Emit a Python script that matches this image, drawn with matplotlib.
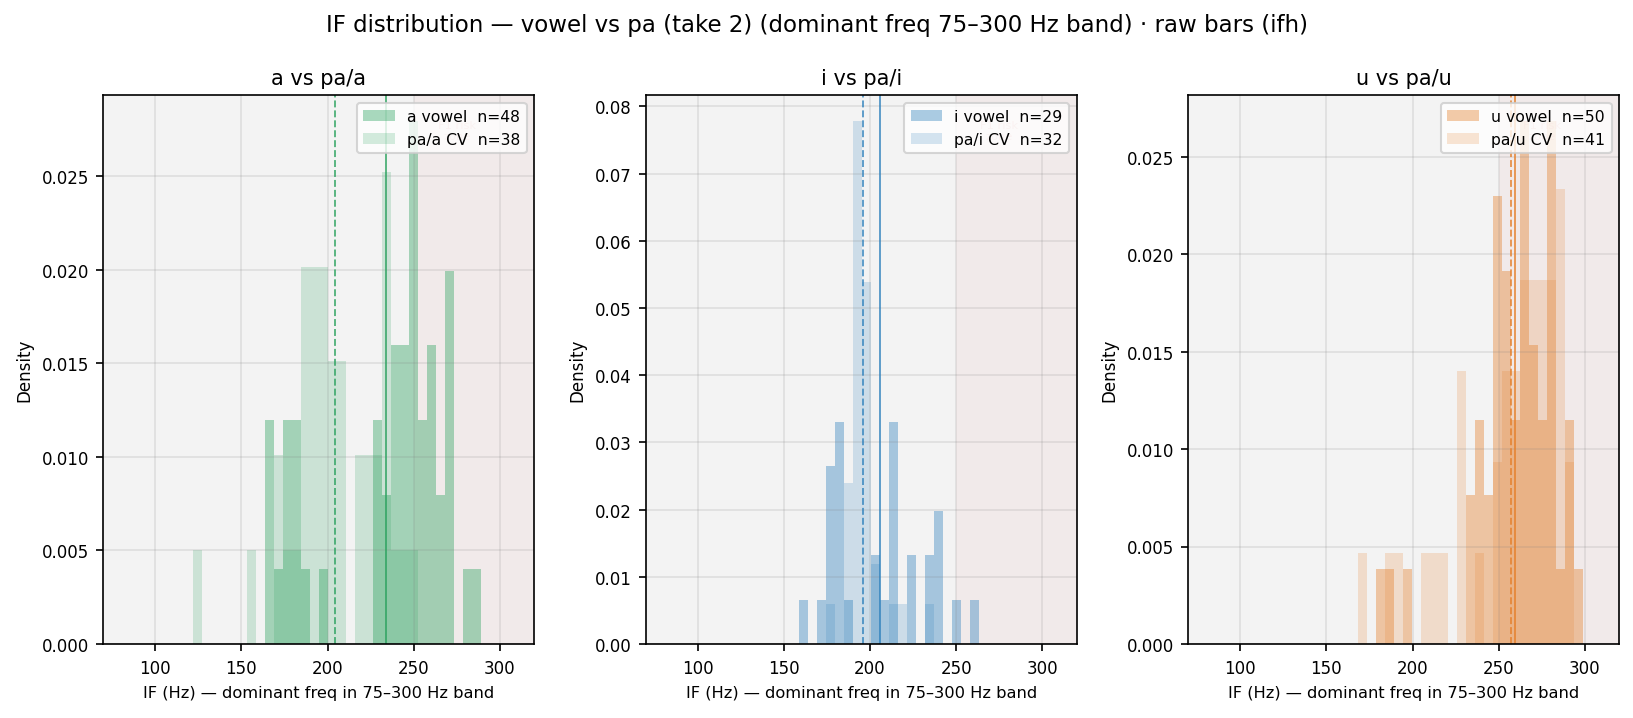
import numpy as np
import matplotlib.pyplot as plt

# histogram counts (shared bin width, per-panel start)
bin_width = 5.22
vowels = ['a', 'i', 'u']
bin_start = [122.1, 158.9, 168.6]

vowel_counts = [
    [0, 0, 0, 0, 0, 0, 0, 0, 3, 1, 3, 3, 1, 0, 1, 0, 0, 0, 0, 0, 3, 2, 4, 4, 7, 3, 4, 2, 5, 0, 1, 1],
    [1, 0, 1, 4, 5, 1, 0, 0, 2, 1, 5, 0, 2, 0, 2, 3, 0, 1, 0, 1],
    [0, 0, 1, 1, 0, 1, 0, 0, 0, 0, 0, 0, 2, 3, 2, 6, 5, 3, 7, 4, 3, 7, 1, 3, 1],
]
cv_counts = [
    [1, 0, 0, 0, 0, 0, 1, 0, 0, 2, 1, 1, 4, 4, 4, 3, 3, 0, 2, 2, 2, 5, 1, 1, 1, 0, 0, 0, 0, 0, 0, 0],
    [0, 0, 0, 1, 0, 4, 13, 9, 2, 0, 1, 1, 0, 0, 1, 0, 0, 0, 0, 0],
    [1, 0, 0, 1, 1, 0, 0, 1, 1, 1, 0, 3, 0, 1, 0, 2, 3, 3, 4, 4, 4, 4, 5, 2, 0],
]
# mean IF of each group (vertical lines)
vowel_mean = [233.7, 205.8, 259.3]
cv_mean = [204.6, 195.9, 257.0]

colors = ['#2ca25f', '#3182bd', '#e47f2a']
f1_risk = (250, 320)
xlim = (70, 320)

fig, axes = plt.subplots(1, 3, figsize=(10.893, 4.793), dpi=150)
fig.subplots_adjust(left=0.0633, right=0.9911, bottom=0.1029, top=0.8666, wspace=0.2587)

for k, ax in enumerate(axes):
    v = vowels[k]
    c = colors[k]
    vc = np.array(vowel_counts[k])
    pc = np.array(cv_counts[k])
    edges = bin_start[k] + bin_width * np.arange(len(vc) + 1)
    centers = 0.5 * (edges[:-1] + edges[1:])

    ax.set_facecolor('#f3f3f3')
    ax.grid(True, color='gray', alpha=0.18, lw=0.8)
    ax.axvspan(f1_risk[0], f1_risk[1], color='#d9534f', alpha=0.05, lw=0, zorder=0)

    ax.hist(centers, bins=edges, weights=vc, density=True, color=c, alpha=0.4,
            label=f'{v} vowel  n={vc.sum()}')
    ax.hist(centers, bins=edges, weights=pc, density=True, color=c, alpha=0.2,
            label=f'pa/{v} CV  n={pc.sum()}')
    ax.axvline(vowel_mean[k], color=c, lw=0.9, alpha=0.8)
    ax.axvline(cv_mean[k], color=c, lw=0.9, alpha=0.8, ls='--')

    ax.text(275, 0.935, 'F1 risk\nzone', transform=ax.get_xaxis_transform(),
            ha='center', va='center', fontsize=5.5, color='#d9534f', alpha=0.3)

    ax.set_xlim(*xlim)
    ax.set_title(f'{v} vs pa/{v}', fontsize=10, pad=5)
    ax.set_xlabel('IF (Hz) — dominant freq in 75–300 Hz band', fontsize=7.8)
    ax.set_ylabel('Density', fontsize=8)
    ax.tick_params(labelsize=8)
    ax.legend(loc='upper right', fontsize=7.5)

fig.suptitle('IF distribution — vowel vs pa (take 2) (dominant freq 75–300 Hz band) · raw bars (ifh)',
             fontsize=11, y=0.98)

fig.savefig('out.png')
